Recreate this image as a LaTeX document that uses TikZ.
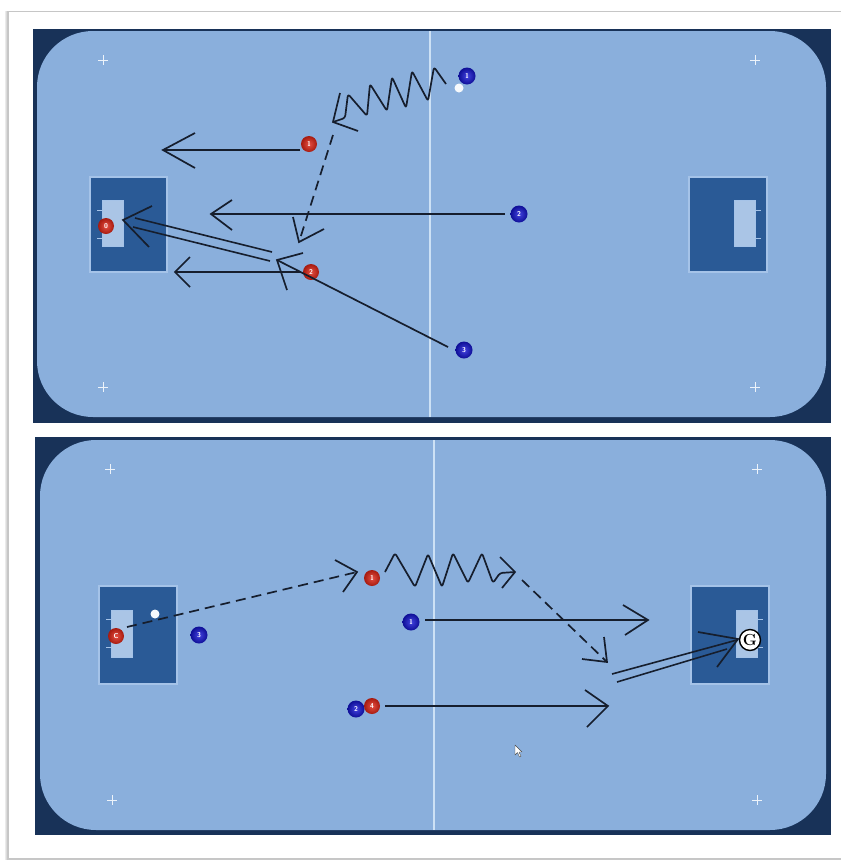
\documentclass[tikz,border=0pt]{standalone}
\definecolor{field}{RGB}{138,175,220}
\definecolor{rim}{RGB}{24,50,88}
\definecolor{boxc}{RGB}{42,90,150}
\definecolor{boxline}{RGB}{165,195,232}
\definecolor{goalc}{RGB}{170,197,230}
\definecolor{midline}{RGB}{205,225,245}
\definecolor{ink}{RGB}{22,30,45}
\definecolor{redp}{RGB}{222,35,20}
\definecolor{bluep}{RGB}{20,20,215}
\tikzset{
  rink/.style={fill=rim},
  surface/.style={fill=field, rounded corners=56pt},
  pbox/.style={fill=boxc, draw=boxline, line width=1.2pt},
  garea/.style={fill=goalc, draw=boxline, line width=0.6pt},
  tick/.style={draw=boxline, line width=1pt},
  centre/.style={draw=midline, line width=1.4pt},
  plus/.style={draw=white!85!field, line width=0.8pt},
  redp/.style={circle, shading=radial, inner color=redp!80!white, outer color=redp!75!black,
    minimum size=16pt, inner sep=0pt,
    text=white, font=\sffamily\bfseries\fontsize{7}{7}\selectfont},
  bluep/.style={circle, shading=radial, inner color=bluep!80!white, outer color=bluep!70!black,
    minimum size=17pt, inner sep=0pt,
    text=white, font=\sffamily\bfseries\fontsize{7}{7}\selectfont},
  puck/.style={circle, fill=white!92!field, minimum size=9pt, inner sep=0pt},
  run/.style={draw=ink, line width=1.7pt, line join=round},
  wave/.style={run, rounded corners=2.5pt},
  pass/.style={run, dash pattern=on 10pt off 6pt},
  shot/.style={draw=ink, line width=1.6pt},
  head/.style={draw=ink, line width=1.7pt},
}
\begin{document}
\begin{tikzpicture}[x=1pt,y=-1pt]
\useasboundingbox (0,0) rectangle (841,860);
\fill[white] (0,0) rectangle (841,860);
% page frame with a soft shadow
\foreach \s/\o in {3/0.08,2/0.14,1/0.22}
  \draw[black, opacity=\o, line width=1pt] (8-\s,11) -- (8-\s,858+\s) -- (845,858+\s);
\draw[gray!45, line width=0.8pt] (845,11) -- (8,11) -- (8,858) -- (845,858);

% ---------------- upper rink ----------------
\fill[rink] (33,29) rectangle (831,423);
\fill[surface] (37,31) rectangle (826,417);
\draw[centre] (430,31) -- (430,417);
\foreach \px/\py in {103/60,755/60,103/387,755/387}
  \draw[plus] (\px-5,\py) -- (\px+5,\py) (\px,\py-5) -- (\px,\py+5);
\draw[pbox] (90,177) rectangle (167,272);
\draw[tick] (97,210) -- (103,210) (97,238) -- (103,238);
\draw[garea] (102,200) rectangle (123,246);
\draw[pbox] (689,177) rectangle (767,272);
\draw[tick] (755,210) -- (761,210) (755,238) -- (761,238);
\draw[garea] (734,200) rectangle (755,246);

% players
\node[puck] (tball) at (459,88) {};
\node[bluep] (tb1) at (467,76) {1};
\node[redp]  (tr1) at (309,144) {1};
\node[bluep] (tb2) at (519,214) {2};
\node[redp]  (tr0) at (106,226) {0};
\node[redp]  (tr2) at (311,272) {2};
\node[bluep] (tb3) at (464,350) {3};

% runs
\coordinate (a1s) at (300,150); \coordinate (a1t) at (163,150);
\draw[run] (a1s) -- (a1t);
\draw[head] (195,133) -- (a1t) -- (195,168);
\coordinate (a2s) at (505,214); \coordinate (a2t) at (211,214);
\draw[run] (a2s) -- (a2t);
\draw[head] (232,200) -- (a2t) -- (232,230);
\coordinate (a3s) at (300,272); \coordinate (a3t) at (175,272);
\draw[run] (a3s) -- (a3t);
\draw[head] (190,257) -- (a3t) -- (190,287);
% dribble of the blue 1
\coordinate (zs) at (446,84); \coordinate (zt) at (333,122);
\draw[wave] (zs) -- (434,67) -- (428,101) -- (412,71) -- (406,108) -- (392,77)
  -- (387,111) -- (370,84) -- (367,116) -- (348,94) -- (345,118) -- (zt);
\draw[head] (340,93) -- (zt) -- (358,131);
% pass towards red 2
\coordinate (p1s) at (333,135); \coordinate (p1t) at (299,242);
\draw[pass] (p1s) -- (p1t);
\draw[head] (293,217) -- (p1t) -- (324,229);
% run of blue 3
\coordinate (b3s) at (448,347); \coordinate (b3t) at (277,260);
\draw[run] (b3s) -- (b3t);
\draw[head] (303,253) -- (b3t) -- (287,290);
% shot on the left goal
\coordinate (s1t) at (123,220);
\draw[shot] (272,252) -- (135,218);
\draw[shot] (270,261) -- (133,227);
\draw[head] (152,206) -- (s1t) -- (149,247);

% ---------------- lower rink ----------------
\fill[rink] (35,437) rectangle (831,835);
\fill[surface] (40,440) rectangle (826,830);
\draw[centre] (434,440) -- (434,830);
\foreach \px/\py in {110/469,757/469,112/800,757/800}
  \draw[plus] (\px-5,\py) -- (\px+5,\py) (\px,\py-5) -- (\px,\py+5);
\draw[pbox] (99,586) rectangle (177,684);
\draw[tick] (106,619) -- (112,619) (106,647) -- (112,647);
\draw[garea] (111,610) rectangle (132,657);
\draw[pbox] (691,586) rectangle (769,684);
\draw[tick] (757,619) -- (763,619) (757,647) -- (763,647);
\draw[garea] (736,610) rectangle (757,657);

% players
\node[puck]  (bball) at (155,614) {};
\node[redp]  (bc) at (116,636) {C};
\node[bluep] (bb3) at (199,635) {3};
\node[redp]  (br1) at (372,578) {1};
\node[bluep] (bb1) at (411,622) {1};
\node[bluep] (bb2) at (356,709) {2};
\node[redp]  (br4) at (372,706) {4};
\node[circle, draw=black, line width=1.4pt, fill=white, minimum size=21pt, inner sep=0pt,
  font=\bfseries\fontsize{16}{16}\selectfont] (gk) at (750,640) {G};

% outlet pass from the keeper
\coordinate (p2s) at (127,627); \coordinate (p2t) at (357,572);
\draw[pass] (p2s) -- (p2t);
\draw[head] (335,560) -- (p2t) -- (343,592);
% dribble of the red 1
\coordinate (z2s) at (385,572); \coordinate (z2t) at (515,572);
\draw[wave] (z2s) -- (395,553) -- (415,587) -- (428,554) -- (442,587) -- (453,553)
  -- (468,583) -- (482,553) -- (493,583) -- (500,573) -- (z2t);
\draw[head] (500,557) -- (z2t) -- (502,588);
% pass into the slot
\coordinate (p3s) at (522,580); \coordinate (p3t) at (607,662);
\draw[pass] (p3s) -- (p3t);
\draw[head] (604,637) -- (p3t) -- (582,659);
% runs of blue 1 and red 4
\coordinate (a4s) at (425,620); \coordinate (a4t) at (648,620);
\draw[run] (a4s) -- (a4t);
\draw[head] (623,605) -- (a4t) -- (625,635);
\coordinate (a5s) at (385,706); \coordinate (a5t) at (608,706);
\draw[run] (a5s) -- (a5t);
\draw[head] (585,690) -- (a5t) -- (587,727);
% shot on goal
\coordinate (s2t) at (738,639);
\draw[shot] (612,674) -- (737,640);
\draw[shot] (617,682) -- (727,649);
\draw[head] (698,632) -- (s2t) -- (717,667);

% mouse pointer
\draw[fill=white, draw=gray!60!black, line width=0.4pt, line join=round]
  (515,745) -- (515,755) -- (517.5,752.5) -- (519.5,757) -- (521,756.3)
  -- (519,752) -- (522,752) -- cycle;
\end{tikzpicture}
\end{document}
